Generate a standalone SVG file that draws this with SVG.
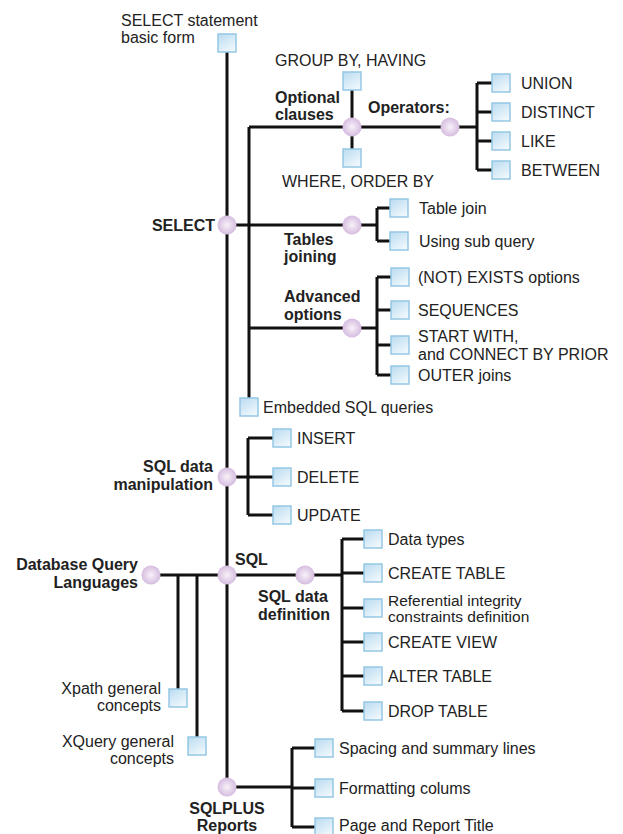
<svg xmlns="http://www.w3.org/2000/svg" xmlns:xlink="http://www.w3.org/1999/xlink" width="623" height="834" viewBox="0 0 623 834">
  <style>
    .t { font-family: "Liberation Sans", Arial, sans-serif; font-size: 16px; fill: #222; }
    .s { font-size: 15.5px; }
    .b { font-family: "Liberation Sans", Arial, sans-serif; font-size: 16px; font-weight: bold; fill: #222; }
    .r { text-anchor: end; }
    .m { text-anchor: middle; }
    .wire { fill: none; stroke: #111; stroke-width: 3; stroke-linejoin: miter; }
  </style>
  <defs>
    <linearGradient id="boxFill" x1="0" y1="0" x2="0.6" y2="1">
      <stop offset="0" stop-color="#b9dbf0"/>
      <stop offset="1" stop-color="#eef7fc"/>
    </linearGradient>
    <radialGradient id="hubFill" cx="0.5" cy="0.5" r="0.5">
      <stop offset="0" stop-color="#f8f2f9"/>
      <stop offset="1" stop-color="#d5bcdf"/>
    </radialGradient>
    <rect id="box" x="-9" y="-9" width="18" height="18" fill="url(#boxFill)" stroke="#95c7e5" stroke-width="1.5"/>
    <circle id="hub" r="9.5" fill="url(#hubFill)"/>
  </defs>

  <rect width="623" height="834" fill="#ffffff"/>

  <!-- connectors -->
  <g id="connectors" class="wire">
    <!-- main spine -->
    <path d="M227 43 V787"/>
    <!-- SELECT inner spine -->
    <path d="M249 127 V407"/>
    <!-- optional clauses -->
    <path d="M249 127 H477"/>
    <path d="M352 81 V158"/>
    <path d="M477 83 V170 M477 83 H501 M477 112 H501 M477 141 H501 M477 170 H501"/>
    <!-- tables joining -->
    <path d="M227 225 H377"/>
    <path d="M377 208 V241 M377 208 H399 M377 241 H399"/>
    <!-- advanced options -->
    <path d="M249 328 H377"/>
    <path d="M377 277 V375 M377 277 H400 M377 310 H400 M377 345 H400 M377 375 H400"/>
    <!-- data manipulation -->
    <path d="M227 477 H248"/>
    <path d="M248 438 V515 M248 438 H282 M248 477 H282 M248 515 H282"/>
    <!-- database query languages / SQL / data definition -->
    <path d="M151 575 H342"/>
    <path d="M178 575 V698 M197 575 V746"/>
    <path d="M342 539 V711 M342 539 H373 M342 573 H373 M342 608 H373 M342 642 H373 M342 676 H373 M342 711 H373"/>
    <!-- SQLPLUS reports -->
    <path d="M227 787 H292"/>
    <path d="M292 748 V827 M292 748 H324 M292 788 H324 M292 827 H324"/>
  </g>

  <!-- hubs -->
  <g id="n-optional"><use xlink:href="#hub" x="352" y="127"/>
    <text class="b" x="275" y="103">Optional</text><text class="b" x="275" y="120">clauses</text></g>
  <g id="n-operators"><use xlink:href="#hub" x="450" y="127"/>
    <text class="b" x="368" y="113">Operators:</text></g>
  <g id="n-select"><use xlink:href="#hub" x="227" y="225"/>
    <text class="b r" x="215" y="231">SELECT</text></g>
  <g id="n-tables"><use xlink:href="#hub" x="352" y="225"/>
    <text class="b" x="284" y="245">Tables</text><text class="b" x="284" y="262">joining</text></g>
  <g id="n-advanced"><use xlink:href="#hub" x="352" y="328"/>
    <text class="b" x="284" y="302">Advanced</text><text class="b" x="284" y="320">options</text></g>
  <g id="n-dml"><use xlink:href="#hub" x="227" y="477"/>
    <text class="b r" x="213" y="472">SQL data</text><text class="b r" x="213" y="490">manipulation</text></g>
  <g id="n-dql"><use xlink:href="#hub" x="151" y="575"/>
    <text class="b r" x="138" y="570">Database Query</text><text class="b r" x="138" y="588">Languages</text></g>
  <g id="n-sql"><use xlink:href="#hub" x="227" y="575"/>
    <text class="b" x="235" y="565">SQL</text></g>
  <g id="n-ddl"><use xlink:href="#hub" x="305" y="575"/>
    <text class="b" x="258" y="602">SQL data</text><text class="b" x="258" y="620">definition</text></g>
  <g id="n-sqlplus"><use xlink:href="#hub" x="227" y="787"/>
    <text class="b m" x="227" y="814">SQLPLUS</text><text class="b m" x="227" y="831">Reports</text></g>

  <!-- leaves -->
  <g id="n-basic"><use xlink:href="#box" x="227" y="43"/>
    <text class="t" x="121" y="26">SELECT statement</text><text class="t" x="121" y="43">basic form</text></g>
  <g id="n-groupby"><use xlink:href="#box" x="352" y="81"/>
    <text class="t" x="275" y="66">GROUP BY, HAVING</text></g>
  <g id="n-where"><use xlink:href="#box" x="352" y="158"/>
    <text class="t" x="282" y="187">WHERE, ORDER BY</text></g>
  <g id="n-union"><use xlink:href="#box" x="501" y="83"/><text class="t" x="521" y="89">UNION</text></g>
  <g id="n-distinct"><use xlink:href="#box" x="501" y="112"/><text class="t" x="521" y="118">DISTINCT</text></g>
  <g id="n-like"><use xlink:href="#box" x="501" y="141"/><text class="t" x="521" y="147">LIKE</text></g>
  <g id="n-between"><use xlink:href="#box" x="501" y="170"/><text class="t" x="521" y="176">BETWEEN</text></g>
  <g id="n-tablejoin"><use xlink:href="#box" x="399" y="208"/><text class="t" x="419" y="214">Table join</text></g>
  <g id="n-subquery"><use xlink:href="#box" x="399" y="241"/><text class="t" x="419" y="247">Using sub query</text></g>
  <g id="n-exists"><use xlink:href="#box" x="400" y="277"/><text class="t" x="418" y="283">(NOT) EXISTS options</text></g>
  <g id="n-sequences"><use xlink:href="#box" x="400" y="310"/><text class="t" x="418" y="316">SEQUENCES</text></g>
  <g id="n-startwith"><use xlink:href="#box" x="400" y="345"/>
    <text class="t" x="418" y="342">START WITH,</text><text class="t" x="418" y="360">and CONNECT BY PRIOR</text></g>
  <g id="n-outer"><use xlink:href="#box" x="400" y="375"/><text class="t" x="418" y="381">OUTER joins</text></g>
  <g id="n-embedded"><use xlink:href="#box" x="249" y="407"/><text class="t" x="263" y="413">Embedded SQL queries</text></g>
  <g id="n-insert"><use xlink:href="#box" x="282" y="438"/><text class="t" x="297" y="444">INSERT</text></g>
  <g id="n-delete"><use xlink:href="#box" x="282" y="477"/><text class="t" x="297" y="483">DELETE</text></g>
  <g id="n-update"><use xlink:href="#box" x="282" y="515"/><text class="t" x="297" y="521">UPDATE</text></g>
  <g id="n-datatypes"><use xlink:href="#box" x="373" y="539"/><text class="t" x="388" y="545">Data types</text></g>
  <g id="n-createtable"><use xlink:href="#box" x="373" y="573"/><text class="t" x="388" y="579">CREATE TABLE</text></g>
  <g id="n-referential"><use xlink:href="#box" x="373" y="608"/>
    <text class="t s" x="388" y="606">Referential integrity</text><text class="t s" x="388" y="622">constraints definition</text></g>
  <g id="n-createview"><use xlink:href="#box" x="373" y="642"/><text class="t" x="388" y="648">CREATE VIEW</text></g>
  <g id="n-altertable"><use xlink:href="#box" x="373" y="676"/><text class="t" x="388" y="682">ALTER TABLE</text></g>
  <g id="n-droptable"><use xlink:href="#box" x="373" y="711"/><text class="t" x="388" y="717">DROP TABLE</text></g>
  <g id="n-xpath"><use xlink:href="#box" x="178" y="698"/>
    <text class="t r" x="161" y="694">Xpath general</text><text class="t r" x="161" y="711">concepts</text></g>
  <g id="n-xquery"><use xlink:href="#box" x="197" y="746"/>
    <text class="t r" x="174" y="747">XQuery general</text><text class="t r" x="174" y="764">concepts</text></g>
  <g id="n-spacing"><use xlink:href="#box" x="324" y="748"/><text class="t" x="339" y="754">Spacing and summary lines</text></g>
  <g id="n-formatting"><use xlink:href="#box" x="324" y="788"/><text class="t" x="339" y="794">Formatting colums</text></g>
  <g id="n-pagetitle"><use xlink:href="#box" x="324" y="827"/><text class="t" x="339" y="831">Page and Report Title</text></g>
</svg>
